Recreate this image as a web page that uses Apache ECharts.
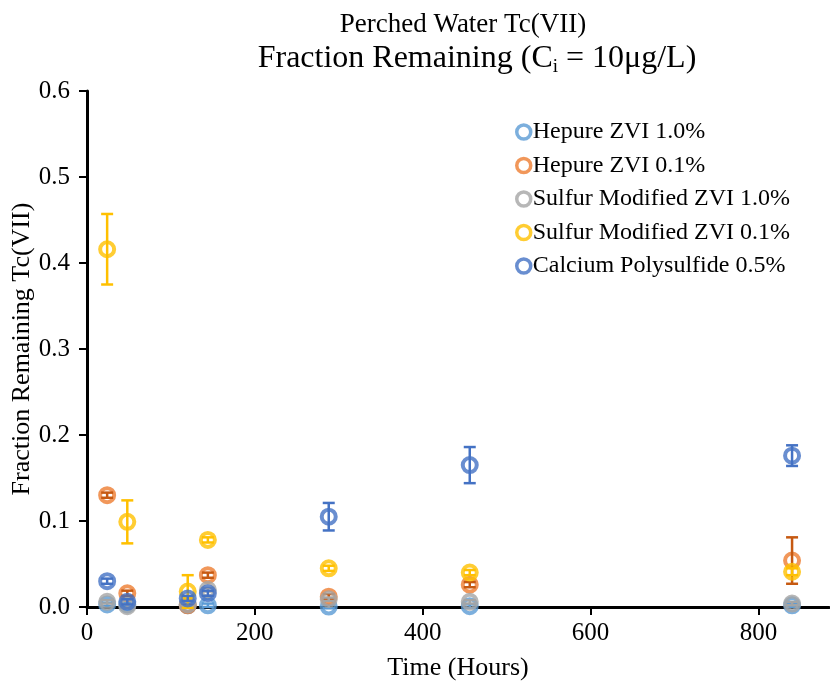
<!DOCTYPE html>
<html>
<head>
<meta charset="utf-8">
<script src="https://cdn.jsdelivr.net/npm/echarts@6/dist/echarts.min.js"></script>
<style>html,body{margin:0;padding:0;background:#fff}#c{width:830px;height:684px}</style>
</head>
<body>
<div id="c"></div>
<script>
var hours = [24, 48, 120, 144, 288, 456, 840];
var seriesNames = ['Hepure ZVI 1.0%', 'Hepure ZVI 0.1%', 'Sulfur Modified ZVI 1.0%', 'Sulfur Modified ZVI 0.1%', 'Calcium Polysulfide 0.5%'];
var hepure10 = [0.003, 0.003, 0.002, 0.002, 0.0005, 0.001, 0.002];
var hepure10Err = [0.002, 0.002, 0.002, 0.002, 0.002, 0.002, 0.002];
var hepure01 = [0.130, 0.016, 0.002, 0.037, 0.012, 0.026, 0.054];
var hepure01Err = [0.003, 0.003, 0.002, 0.003, 0.003, 0.003, 0.027];
var sulfur10 = [0.006, 0.001, 0.003, 0.020, 0.009, 0.006, 0.004];
var sulfur10Err = [0.002, 0.002, 0.002, 0.002, 0.002, 0.002, 0.002];
var sulfur01 = [0.416, 0.099, 0.018, 0.078, 0.045, 0.040, 0.041];
var sulfur01Err = [0.041, 0.025, 0.019, 0.003, 0.003, 0.003, 0.004];
var calcium05 = [0.030, 0.006, 0.010, 0.016, 0.105, 0.165, 0.176];
var calcium05Err = [0.003, 0.003, 0.003, 0.003, 0.016, 0.021, 0.012];
var xTicks = [0, 200, 400, 600, 800];
var yTicks = [0, 0.1, 0.2, 0.3, 0.4, 0.5, 0.6];

var colors = ['#5B9BD5', '#ED7D31', '#A5A5A5', '#FFC000', '#4472C4'];
var errColors = ['#5B9BD5', '#C65911', '#A5A5A5', '#FFC000', '#4472C4'];
var values = [hepure10, hepure01, sulfur10, sulfur01, calcium05];
var errs = [hepure10Err, hepure01Err, sulfur10Err, sulfur01Err, calcium05Err];
var FONT = '"Liberation Serif", "Times New Roman", serif';

var series = [];
for (var s = 0; s < 5; s++) {
  (function (s) {
    var pts = hours.map(function (h, i) { return [h, values[s][i]]; });
    var ebs = hours.map(function (h, i) { return [h, values[s][i], errs[s][i]]; });
    series.push({
      name: seriesNames[s],
      type: 'scatter',
      data: pts,
      symbol: 'circle',
      symbolSize: 14,
      z: 2 + s * 2,
      itemStyle: { color: 'rgba(255,255,255,0)', borderColor: colors[s], borderWidth: 4 },
      emphasis: { disabled: true }
    });
    series.push({
      name: seriesNames[s] + ' err',
      type: 'custom',
      data: ebs,
      z: 3 + s * 2,
      silent: true,
      renderItem: function (params, api) {
        var x = api.value(0), y = api.value(1), e = api.value(2);
        var top = api.coord([x, y + e]);
        var bot = api.coord([x, Math.max(y - e, -1)]);
        var hw = 6;
        var st = { stroke: errColors[s], lineWidth: 2.5 };
        return {
          type: 'group',
          children: [
            { type: 'line', shape: { x1: top[0], y1: top[1], x2: bot[0], y2: bot[1] }, style: st },
            { type: 'line', shape: { x1: top[0] - hw, y1: top[1], x2: top[0] + hw, y2: top[1] }, style: st },
            { type: 'line', shape: { x1: bot[0] - hw, y1: bot[1], x2: bot[0] + hw, y2: bot[1] }, style: st }
          ]
        };
      }
    });
  })(s);
}

var chart = echarts.init(document.getElementById('c'), null, { renderer: 'canvas' });
chart.setOption({
  backgroundColor: '#ffffff',
  animation: false,
  title: {
    text: '{a|Perched Water Tc(VII)}\n{b0|Fraction Remaining (C}{sub|i}{b| = 10μg/L)}',
    left: 458, textAlign: 'center', top: 4,
    textStyle: {
      fontFamily: FONT, fontWeight: 'normal', color: '#000',
      rich: {
        a: { fontFamily: FONT, fontSize: 27, lineHeight: 32, color: '#000' },
        b0: { fontFamily: FONT, fontSize: 32, lineHeight: 36, color: '#000', padding: [0, 0, 0, 28] },
        b: { fontFamily: FONT, fontSize: 32, lineHeight: 36, color: '#000' },
        sub: { fontFamily: FONT, fontSize: 19, lineHeight: 36, verticalAlign: 'bottom', padding: [16, 0, 0, 0], color: '#000' }
      }
    }
  },
  legend: {
    data: seriesNames,
    orient: 'vertical',
    left: 510, top: 115,
    itemWidth: 14, itemHeight: 14, itemGap: 9.5,
    icon: 'circle',
    itemStyle: { borderWidth: 3.5 },
    textStyle: { fontFamily: FONT, fontSize: 24, color: '#000', padding: [0, 0, 0, -3] }
  },
  grid: { left: 87, right: 1, top: 91, bottom: 77, containLabel: false, outerBoundsMode: 'none' },
  xAxis: {
    type: 'value', min: 0, max: 884, interval: 200,
    name: 'Time (Hours)', nameLocation: 'middle', nameGap: 48, nameMoveOverlap: false,
    nameTextStyle: { fontFamily: FONT, fontSize: 26, color: '#000' },
    axisLine: { show: true, onZero: false, lineStyle: { color: '#000', width: 3 } },
    axisTick: { show: true, inside: false, length: 8, lineStyle: { color: '#000', width: 2 } },
    axisLabel: { fontFamily: FONT, fontSize: 25, color: '#000', margin: 14, showMaxLabel: false,
      formatter: function (v) { return xTicks.indexOf(v) >= 0 ? String(v) : ''; } },
    splitLine: { show: false }
  },
  yAxis: {
    type: 'value', min: 0, max: 0.6, interval: 0.1,
    name: 'Fraction Remaining Tc(VII)', nameLocation: 'middle', nameGap: 52, nameMoveOverlap: false,
    nameTextStyle: { fontFamily: FONT, fontSize: 26, color: '#000' },
    axisLine: { show: true, lineStyle: { color: '#000', width: 3 } },
    axisTick: { show: true, inside: false, length: 8, lineStyle: { color: '#000', width: 2 } },
    axisLabel: { fontFamily: FONT, fontSize: 25, color: '#000', margin: 17,
      formatter: function (v) { var t = yTicks.filter(function (k) { return Math.abs(k - v) < 1e-9; }); return t.length ? t[0].toFixed(1) : ''; } },
    splitLine: { show: false }
  },
  series: series
});
</script>
</body>
</html>
